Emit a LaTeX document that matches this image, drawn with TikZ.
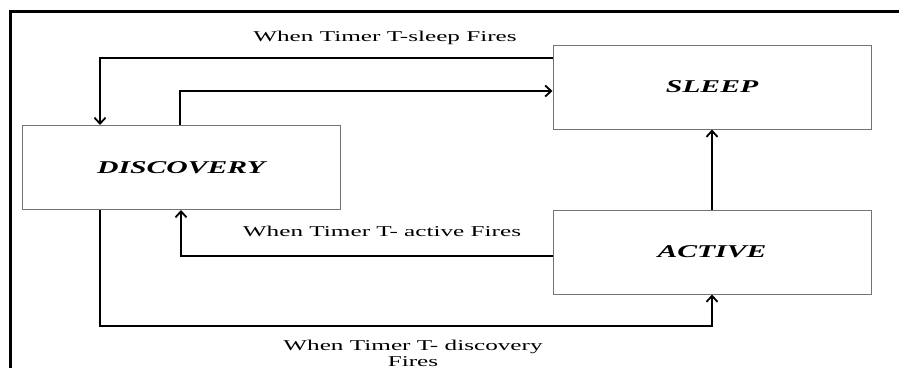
\documentclass[tikz,border=0pt]{standalone}
\usepackage{fontspec}
\setmainfont{Liberation Serif}
\newfontfamily\lblfont{Liberation Serif}[FakeStretch=1.68]
\newfontfamily\boxfont{Liberation Serif}[FakeStretch=1.65]
\usetikzlibrary{arrows.meta}
\begin{document}
\begin{tikzpicture}[x=1pt,y=-1pt,
  statebox/.style={draw=black!55,line width=1pt,minimum width=318pt,minimum height=84pt,inner sep=0pt,
    font=\boxfont\fontsize{18}{20}\selectfont\bfseries\itshape},
  lbl/.style={font=\lblfont\fontsize{15}{16}\selectfont,align=center,inner sep=0pt},
  arr/.style={line width=2.3pt,-{Straight Barb[length=6pt,width=11pt,line width=1.8pt]}},
  thinarr/.style={line width=1.6pt,-{Straight Barb[length=6pt,width=11pt,line width=1.8pt]}}]
\fill[white] (0,0) rectangle (899,368);
\useasboundingbox (0,0) rectangle (899,368);
% outer frame
\draw[line width=3pt] (10,368) -- (10,11) -- (899,11);
% states
\node[statebox] (disc) at (181,167.5) {DISCOVERY};
\node[statebox] (sleep) at (712,87) {SLEEP};
\node[statebox] (active) at (712,252) {ACTIVE};
% helper coordinates
\coordinate (c1) at (100,58);
\coordinate (c2) at (180,91);
\coordinate (c3) at (181,256);
\coordinate (c4) at (100,326);
% connectors
\draw[thinarr] (sleep.west |- c1) -| (disc.north -| c1);
\draw[arr] (disc.north -| c2) |- (sleep.west |- c2);
\draw[arr] (active.north) -- (sleep.south);
\draw[arr] (active.west |- c3) -| (disc.south -| c3);
\draw[arr] (disc.south -| c4) |- (c4 -| active.south) -- (active.south);
% labels
\node[lbl] (l1) at (385,38) {When Timer T-sleep Fires};
\node[lbl] (l2) at (382,231) {When Timer T- active Fires};
\node[lbl] (l3) at (413,353) {When Timer T- discovery\\Fires};
\end{tikzpicture}
\end{document}
